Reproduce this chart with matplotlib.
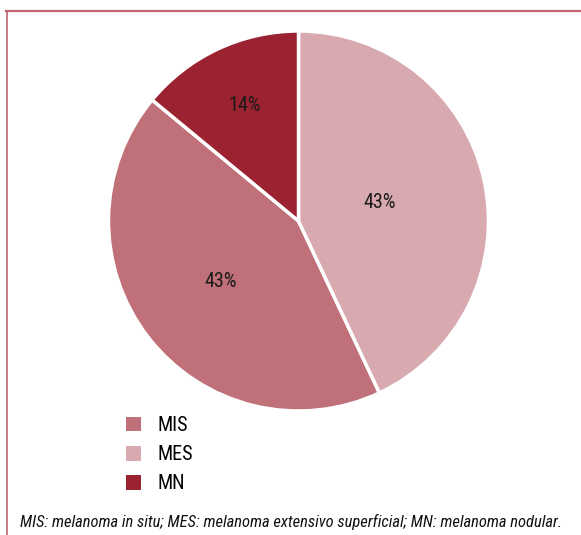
import matplotlib
matplotlib.use("Agg")
import matplotlib.pyplot as plt
from matplotlib.lines import Line2D
from matplotlib.patches import Patch
import numpy as np

labels = ["MIS", "MES", "MN"]
values = [43, 43, 14]
pct_labels = ["43%", "43%", "14%"]
caption = "MIS: melanoma in situ; MES: melanoma extensivo superficial; MN: melanoma nodular."

colors = ["#c07078", "#d9a9b0", "#9b2231"]
label_dist = [0.52, 0.44, 0.67]

plt.rcParams["font.family"] = ["Roboto Condensed", "DejaVu Sans"]

W, H = 581, 535
fig = plt.figure(figsize=(W / 100, H / 100), dpi=100)

# frame lines (top and left)
frame_col = "#c0656f"
fig.add_artist(Line2D([6 / W, 1], [1 - 10.5 / H, 1 - 10.5 / H], color=frame_col, lw=1.6))
fig.add_artist(Line2D([6.5 / W, 6.5 / W], [0, 1 - 10.5 / H], color=frame_col, lw=1.2))

cx, cy, r = 298.5, 221, 190
ax = fig.add_axes([(cx - r) / W, (H - cy - r) / H, 2 * r / W, 2 * r / H])
start = 90 + values[2] / sum(values) * 360
wedges, _ = ax.pie(values, colors=colors, startangle=start, counterclock=True,
                   wedgeprops=dict(edgecolor="white", linewidth=2.5))
ax.set_xlim(-1, 1)
ax.set_ylim(-1, 1)
for w in wedges:
    w.set_clip_on(False)

for w, txt, d in zip(wedges, pct_labels, label_dist):
    ang = np.deg2rad((w.theta1 + w.theta2) / 2)
    ax.text(d * np.cos(ang), d * np.sin(ang), txt, ha="center", va="center",
            fontsize=14.5, color="#1a1a1a")

handles = [Patch(facecolor=c, edgecolor="none") for c in colors]
fig.legend(handles, labels, loc="upper left",
           bbox_to_anchor=(110 / W, 1 - 400 / H), frameon=False, fontsize=14.5,
           handlelength=0.75, handleheight=0.75, handletextpad=0.8,
           labelspacing=0.5, borderpad=0.3)

fig.text(20 / W, 1 - 522 / H, caption, ha="left", va="center", fontsize=11.9,
         style="italic", color="#111111")

fig.savefig("out.png", dpi=100)
